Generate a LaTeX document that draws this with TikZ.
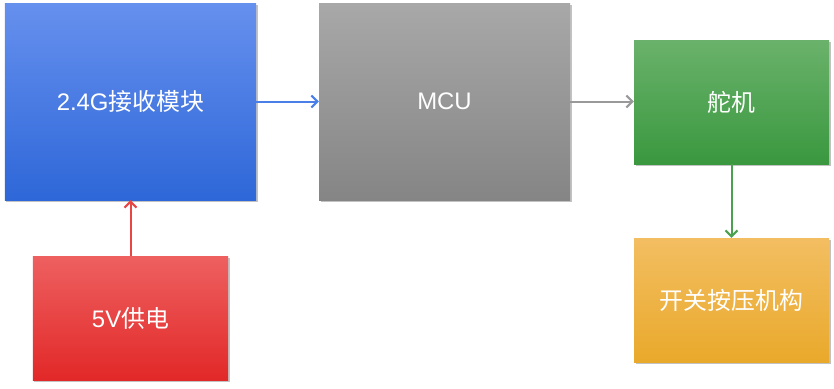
\documentclass[tikz,border=0pt]{standalone}
\usepackage{fontspec}
\setmainfont{Liberation Sans}
\newfontfamily\cjk{Noto Sans CJK SC}
\usetikzlibrary{arrows.meta,shadows}
\begin{document}
\begin{tikzpicture}[x=1bp,y=-1bp,
  block/.style={inner sep=0pt, text=white,
    font=\fontsize{24}{28}\selectfont,
    drop shadow={shadow xshift=1.5bp, shadow yshift=-2bp, opacity=0.4, fill=black!60}},
  link/.style={line width=2bp, -{Straight Barb[length=6bp,width=12bp]}}
]
\definecolor{blueTop}{HTML}{6690EE}
\definecolor{blueBot}{HTML}{2E67D8}
\definecolor{grayTop}{HTML}{A8A8A8}
\definecolor{grayBot}{HTML}{858585}
\definecolor{greenTop}{HTML}{6AB26B}
\definecolor{greenBot}{HTML}{3A983F}
\definecolor{orangeTop}{HTML}{F3BE62}
\definecolor{orangeBot}{HTML}{E9A92B}
\definecolor{redTop}{HTML}{EE6060}
\definecolor{redBot}{HTML}{E22828}
\definecolor{blueLine}{HTML}{4A7FE8}
\definecolor{grayLine}{HTML}{999999}
\definecolor{greenLine}{HTML}{4CA150}
\definecolor{redLine}{HTML}{E84545}

\useasboundingbox (0,0) rectangle (834,388);

\node[block, minimum width=251bp, minimum height=197bp, top color=blueTop, bottom color=blueBot]
  (rx) at (130.5,101.5) {2.4G{\cjk 接收模块}};
\node[block, minimum width=251bp, minimum height=197bp, top color=grayTop, bottom color=grayBot]
  (mcu) at (444.5,101.5) {MCU};
\node[block, minimum width=195bp, minimum height=124bp, top color=greenTop, bottom color=greenBot]
  (servo) at (731.5,102) {\cjk 舵机};
\node[block, minimum width=195bp, minimum height=124bp, top color=orangeTop, bottom color=orangeBot]
  (press) at (731.5,300) {\cjk 开关按压机构};
\node[block, minimum width=195bp, minimum height=124bp, top color=redTop, bottom color=redBot]
  (pwr) at (130.5,318) {5V{\cjk 供电}};

\draw[link, color=blueLine] (rx.east) -- (mcu.west);
\draw[link, color=grayLine] (mcu.east) -- (mcu.east -| servo.west);
\draw[link, color=greenLine] (servo.south) -- (press.north);
\draw[link, color=redLine] (pwr.north) -- (rx.south);
\end{tikzpicture}
\end{document}
